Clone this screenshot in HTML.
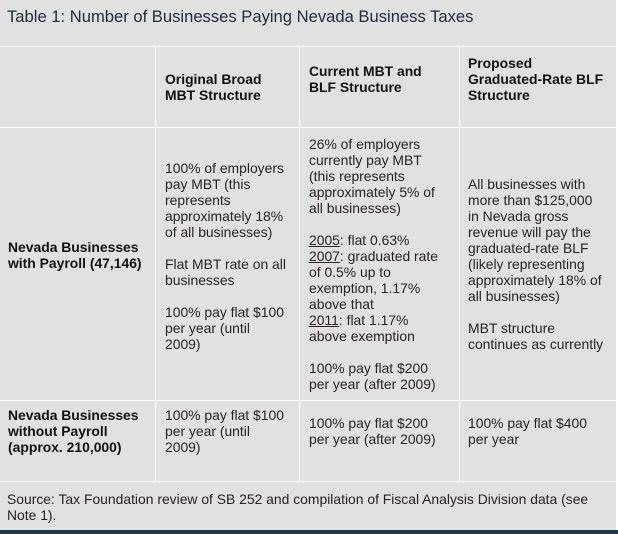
<!DOCTYPE html>
<html><head><meta charset="utf-8"><style>
body{margin:0;width:618px;height:534px;position:relative;overflow:hidden;background:#fff;font-family:"Liberation Sans",Arial,sans-serif;}
#bg{position:absolute;left:0;top:0;width:616px;height:530px;background:#e1e1e1;}
#bar{position:absolute;left:0;top:530px;width:618px;height:4px;background:#1e3a4c;}
.h{position:absolute;left:0;width:616px;height:1px;background:#fff;}
.v{position:absolute;width:1px;background:#fff;}
.t{position:absolute;font-size:13.9px;line-height:16px;color:#2a2222;white-space:nowrap;}
.b{font-weight:bold;color:#111;}
u{text-decoration:underline;}
</style></head><body>
<div id="bg"></div><div id="bar"></div>
<div class="t" style="left:7px;top:7px;font-size:16.6px;line-height:20px;color:#1e2a3a">Table 1: Number of Businesses Paying Nevada Business Taxes</div>
<div class="h" style="top:46px"></div>
<div class="h" style="top:127px"></div>
<div class="h" style="top:400px"></div>
<div class="h" style="top:481px"></div>
<div class="v" style="left:155px;top:46px;height:435px"></div>
<div class="v" style="left:299px;top:46px;height:435px"></div>
<div class="v" style="left:459px;top:46px;height:435px"></div>

<div class="t b" style="left:165px;top:71px">Original Broad<br>MBT Structure</div>
<div class="t b" style="left:309px;top:63px">Current MBT and<br>BLF Structure</div>
<div class="t b" style="left:468px;top:55px">Proposed<br>Graduated-Rate BLF<br>Structure</div>

<div class="t b" style="left:8px;top:239px">Nevada Businesses<br>with Payroll (47,146)</div>
<div class="t" style="left:165px;top:160px">100% of employers<br>pay MBT (this<br>represents<br>approximately 18%<br>of all businesses)<br><br>Flat MBT rate on all<br>businesses<br><br>100% pay flat $100<br>per year (until<br>2009)</div>
<div class="t" style="left:309px;top:136px">26% of employers<br>currently pay MBT<br>(this represents<br>approximately 5% of<br>all businesses)<br><br><u>2005</u>: flat 0.63%<br><u>2007</u>: graduated rate<br>of 0.5% up to<br>exemption, 1.17%<br>above that<br><u>2011</u>: flat 1.17%<br>above exemption<br><br>100% pay flat $200<br>per year (after 2009)</div>
<div class="t" style="left:468px;top:176px">All businesses with<br>more than $125,000<br>in Nevada gross<br>revenue will pay the<br>graduated-rate BLF<br>(likely representing<br>approximately 18% of<br>all businesses)<br><br>MBT structure<br>continues as currently</div>

<div class="t b" style="left:8px;top:407px">Nevada Businesses<br>without Payroll<br>(approx. 210,000)</div>
<div class="t" style="left:165px;top:407px">100% pay flat $100<br>per year (until<br>2009)</div>
<div class="t" style="left:309px;top:415px">100% pay flat $200<br>per year (after 2009)</div>
<div class="t" style="left:468px;top:415px">100% pay flat $400<br>per year</div>

<div class="t" style="left:7px;top:491px">Source: Tax Foundation review of SB 252 and compilation of Fiscal Analysis Division data (see<br>Note 1).</div>
</body></html>
